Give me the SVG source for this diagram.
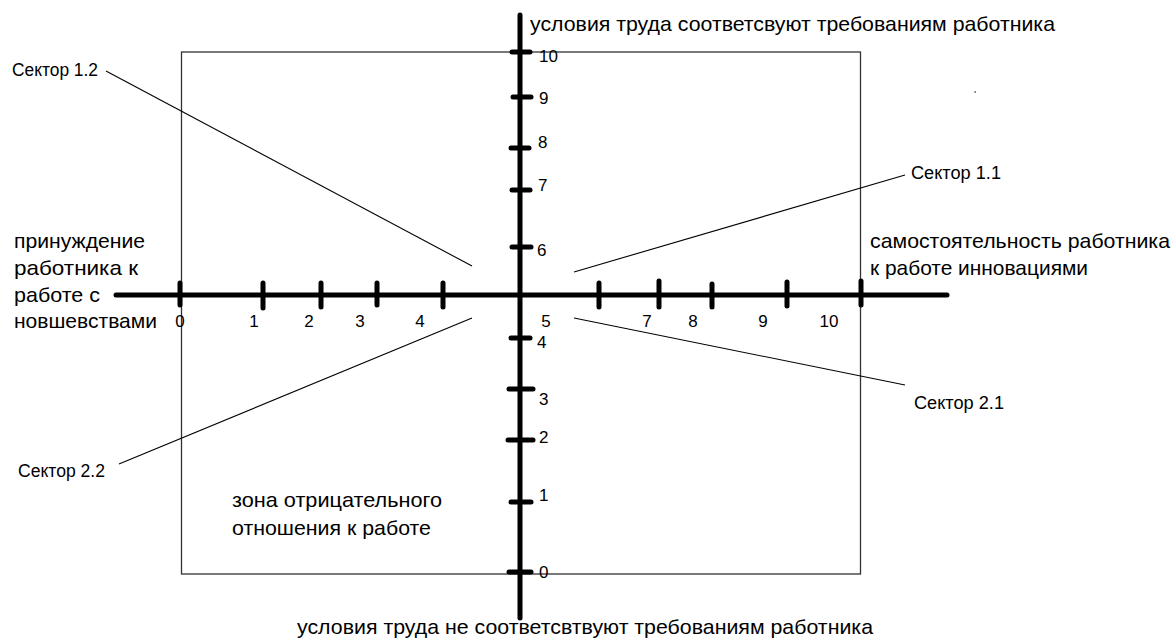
<svg xmlns="http://www.w3.org/2000/svg" width="1173" height="639" viewBox="0 0 1173 639">
<style>
text{font-family:"Liberation Sans",Arial,sans-serif;fill:#000}
.lab{font-size:21px}
.sec{font-size:17.5px}
.num{font-size:17px}
.axis{stroke:#000;stroke-width:5;stroke-linecap:round;fill:none}
.tick{stroke:#000;stroke-width:5;stroke-linecap:round}
.thin{stroke:#000;stroke-width:1.1;fill:none}
</style>
<rect id="frame" x="181.5" y="52" width="679" height="522" fill="none" stroke="#333" stroke-width="1.3"/>
<g id="connectors">
<line class="thin" x1="106" y1="71" x2="472" y2="266"/>
<line class="thin" x1="905" y1="175" x2="574" y2="272"/>
<line class="thin" x1="574" y1="318" x2="905" y2="385"/>
<line class="thin" x1="472" y1="318" x2="119" y2="464"/>
</g>
<g id="axes">
<line class="axis" x1="116" y1="295" x2="947" y2="295"/>
<line class="axis" x1="520" y1="15" x2="520" y2="618"/>
</g>
<g id="h-ticks">
<line class="tick" x1="180" y1="283" x2="180" y2="305"/>
<line class="tick" x1="263" y1="283" x2="263" y2="308"/>
<line class="tick" x1="321" y1="283" x2="321" y2="307"/>
<line class="tick" x1="377" y1="283" x2="377" y2="305"/>
<line class="tick" x1="443" y1="283" x2="443" y2="307"/>
<line class="tick" x1="599" y1="283" x2="599" y2="307"/>
<line class="tick" x1="659" y1="281" x2="659" y2="307"/>
<line class="tick" x1="712" y1="284" x2="712" y2="307"/>
<line class="tick" x1="787" y1="282" x2="787" y2="306"/>
<line class="tick" x1="861" y1="281" x2="861" y2="305"/>
</g>
<g id="v-ticks">
<line class="tick" x1="512" y1="52" x2="530" y2="52"/>
<line class="tick" x1="513" y1="97" x2="531" y2="97"/>
<line class="tick" x1="511" y1="148" x2="529" y2="148"/>
<line class="tick" x1="512" y1="190" x2="530" y2="190"/>
<line class="tick" x1="512" y1="247" x2="531" y2="247"/>
<line class="tick" x1="511" y1="338" x2="530" y2="338"/>
<line class="tick" x1="509" y1="389" x2="533" y2="389"/>
<line class="tick" x1="508" y1="440" x2="533" y2="440"/>
<line class="tick" x1="511" y1="502" x2="531" y2="502"/>
<line class="tick" x1="509" y1="572" x2="531" y2="572"/>
</g>
<g id="h-labels" class="num" text-anchor="middle">
<text x="180" y="327">0</text>
<text x="254" y="327">1</text>
<text x="309" y="327">2</text>
<text x="360" y="327">3</text>
<text x="420" y="327">4</text>
<text x="546" y="327">5</text>
<text x="647" y="327">7</text>
<text x="693" y="327">8</text>
<text x="763" y="327">9</text>
<text x="829" y="327">10</text>
</g>
<g id="v-labels" class="num">
<text x="539" y="62">10</text>
<text x="539" y="104">9</text>
<text x="538" y="148">8</text>
<text x="538" y="191">7</text>
<text x="537" y="256">6</text>
<text x="537" y="348">4</text>
<text x="539" y="405">3</text>
<text x="539" y="443">2</text>
<text x="539" y="501">1</text>
<text x="539" y="578">0</text>
</g>
<g id="top-label"><text class="lab" x="530" y="31" textLength="525" lengthAdjust="spacingAndGlyphs">условия труда соответсвуют требованиям работника</text></g>
<g id="bottom-label"><text class="lab" x="297" y="634" textLength="576" lengthAdjust="spacingAndGlyphs">условия труда не соответсвтвуют требованиям работника</text></g>
<g id="left-label" class="lab">
<text x="14" y="248" textLength="131" lengthAdjust="spacingAndGlyphs">принуждение</text>
<text x="14" y="275" textLength="124" lengthAdjust="spacingAndGlyphs">работника к</text>
<text x="14" y="302" textLength="86" lengthAdjust="spacingAndGlyphs">работе с</text>
<text x="14" y="328" textLength="143" lengthAdjust="spacingAndGlyphs">новшевствами</text>
</g>
<g id="right-label" class="lab">
<text x="870" y="248" textLength="300" lengthAdjust="spacingAndGlyphs">самостоятельность работника</text>
<text x="870" y="275" textLength="218" lengthAdjust="spacingAndGlyphs">к работе инновациями</text>
</g>
<g id="zone-label" class="lab">
<text x="232" y="507" textLength="210" lengthAdjust="spacingAndGlyphs">зона отрицательного</text>
<text x="232" y="535" textLength="199" lengthAdjust="spacingAndGlyphs">отношения к работе</text>
</g>
<g id="sector-1-2"><text class="sec" x="12" y="76" textLength="86" lengthAdjust="spacingAndGlyphs">Сектор 1.2</text></g>
<g id="sector-1-1"><text class="sec" x="911" y="179" textLength="90" lengthAdjust="spacingAndGlyphs">Сектор 1.1</text></g>
<g id="sector-2-1"><text class="sec" x="914" y="409" textLength="90" lengthAdjust="spacingAndGlyphs">Сектор 2.1</text></g>
<g id="sector-2-2"><text class="sec" x="18" y="477" textLength="87" lengthAdjust="spacingAndGlyphs">Сектор 2.2</text></g>
<rect x="974.5" y="91" width="1.2" height="2" fill="#555"/>
</svg>
